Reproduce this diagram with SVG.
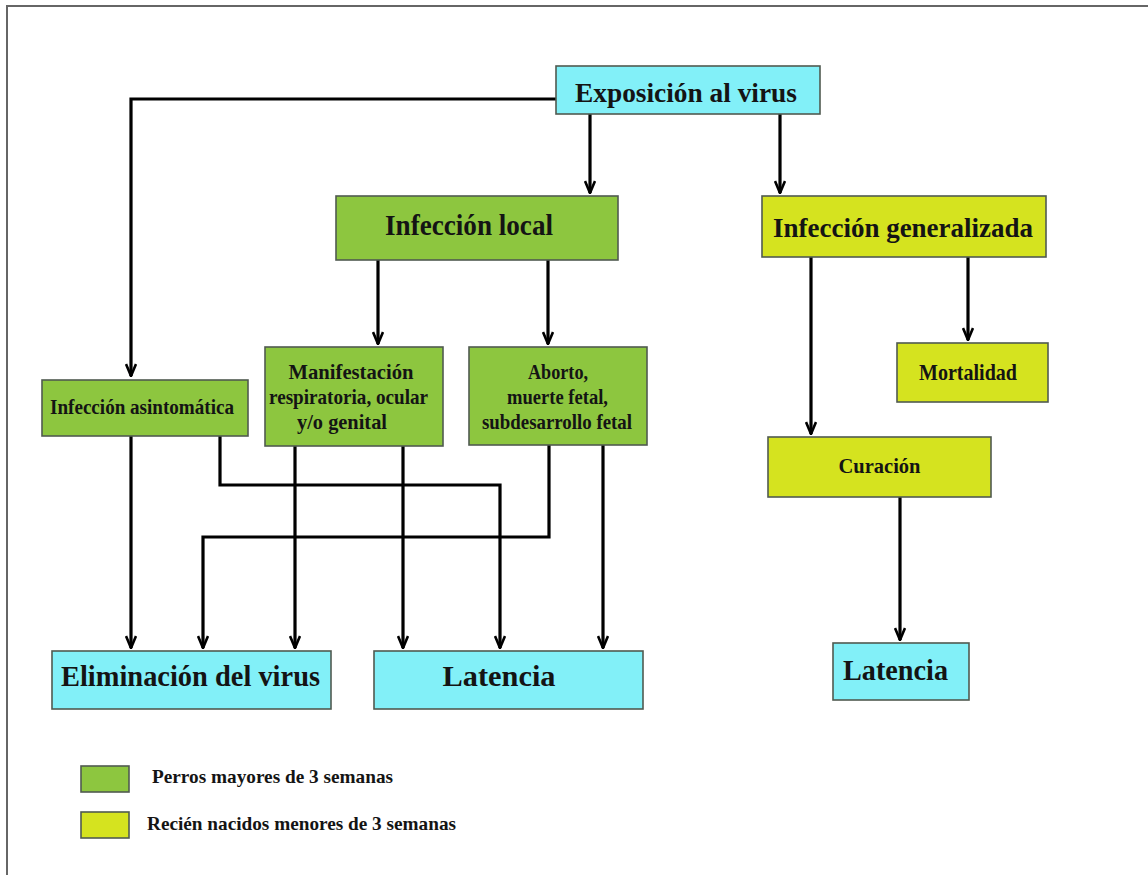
<svg xmlns="http://www.w3.org/2000/svg" width="1148" height="875" viewBox="0 0 1148 875">
<style>
.box{stroke:#505a50;stroke-width:1.6}
.cy{fill:#82f0f8}
.gr{fill:#8dc63f}
.ye{fill:#d5e31f}
text{font-family:"Liberation Serif","Times New Roman",serif;font-weight:bold;fill:#141414;text-anchor:middle}
.t28{font-size:28px}
.t29{font-size:29px}
.t30{font-size:30px}
.t21{font-size:21px}
.t22{font-size:22px}
.t23{font-size:23px}
.t205{font-size:20.5px}
.lg{font-size:19.5px;text-anchor:start}
.c{fill:none;stroke:#000;stroke-width:3.2}
</style>
<defs>
<marker id="ah" viewBox="0 0 14 12" refX="13" refY="6" markerWidth="14" markerHeight="12" markerUnits="userSpaceOnUse" orient="auto">
<path d="M1,1 L13,6 L1,11" fill="none" stroke="#000" stroke-width="2.6"/>
</marker>
</defs>
<rect x="0" y="0" width="1148" height="875" fill="#fff"/>
<rect x="7" y="6" width="1170" height="900" fill="none" stroke="#666" stroke-width="2"/>

<g id="connectors">
<path class="c" d="M556,99 H131 V376" marker-end="url(#ah)"/>
<path class="c" d="M590,114 V193" marker-end="url(#ah)"/>
<path class="c" d="M780,114 V193" marker-end="url(#ah)"/>
<path class="c" d="M378,260 V344" marker-end="url(#ah)"/>
<path class="c" d="M548,260 V344" marker-end="url(#ah)"/>
<path class="c" d="M811,257 V434" marker-end="url(#ah)"/>
<path class="c" d="M968,257 V340" marker-end="url(#ah)"/>
<path class="c" d="M900,497 V640" marker-end="url(#ah)"/>
<path class="c" d="M131,436 V648" marker-end="url(#ah)"/>
<path class="c" d="M220,436 V485 H500 V648" marker-end="url(#ah)"/>
<path class="c" d="M295,446 V648" marker-end="url(#ah)"/>
<path class="c" d="M403,446 V648" marker-end="url(#ah)"/>
<path class="c" d="M549,445 V537 H203 V648" marker-end="url(#ah)"/>
<path class="c" d="M603,445 V648" marker-end="url(#ah)"/>
</g>

<g id="exposicion"><rect class="box cy" x="556" y="66" width="264" height="48"/><text class="t28" x="686" y="102" textLength="222" lengthAdjust="spacingAndGlyphs">Exposición al virus</text></g>
<g id="infeccion-local"><rect class="box gr" x="336" y="196" width="282" height="64"/><text class="t29" x="469" y="235" textLength="168" lengthAdjust="spacingAndGlyphs">Infección local</text></g>
<g id="infeccion-generalizada"><rect class="box ye" x="762" y="196" width="284" height="61"/><text class="t28" x="903" y="237" textLength="260" lengthAdjust="spacingAndGlyphs">Infección generalizada</text></g>
<g id="infeccion-asintomatica"><rect class="box gr" x="42" y="380" width="206" height="56"/><text class="t205" x="142" y="414" textLength="184" lengthAdjust="spacingAndGlyphs">Infección asintomática</text></g>
<g id="manifestacion"><rect class="box gr" x="265" y="347" width="178" height="99"/><text class="t21" x="351" y="379" textLength="125" lengthAdjust="spacingAndGlyphs">Manifestación</text><text class="t21" x="348.5" y="404" textLength="159" lengthAdjust="spacingAndGlyphs">respiratoria, ocular</text><text class="t21" x="342" y="429" textLength="90" lengthAdjust="spacingAndGlyphs">y/o genital</text></g>
<g id="aborto"><rect class="box gr" x="469" y="347" width="178" height="98"/><text class="t21" x="558" y="379" textLength="60" lengthAdjust="spacingAndGlyphs">Aborto,</text><text class="t21" x="557.5" y="404" textLength="101" lengthAdjust="spacingAndGlyphs">muerte fetal,</text><text class="t21" x="557" y="429" textLength="150" lengthAdjust="spacingAndGlyphs">subdesarrollo fetal</text></g>
<g id="mortalidad"><rect class="box ye" x="897" y="343" width="151" height="59"/><text class="t23" x="968" y="380" textLength="98" lengthAdjust="spacingAndGlyphs">Mortalidad</text></g>
<g id="curacion"><rect class="box ye" x="768" y="437" width="223" height="60"/><text class="t22" x="879.5" y="473" textLength="82" lengthAdjust="spacingAndGlyphs">Curación</text></g>
<g id="eliminacion"><rect class="box cy" x="52" y="651" width="279" height="58"/><text class="t30" x="190.5" y="686" textLength="259" lengthAdjust="spacingAndGlyphs">Eliminación del virus</text></g>
<g id="latencia-1"><rect class="box cy" x="374" y="651" width="269" height="58"/><text class="t30" x="499" y="686" textLength="113" lengthAdjust="spacingAndGlyphs">Latencia</text></g>
<g id="latencia-2"><rect class="box cy" x="833" y="643" width="136" height="57"/><text class="t30" x="895.5" y="680" textLength="105" lengthAdjust="spacingAndGlyphs">Latencia</text></g>

<g id="legend">
<rect class="box gr" x="81" y="766" width="48" height="26"/><text class="lg" x="152" y="783" textLength="241" lengthAdjust="spacingAndGlyphs">Perros mayores de 3 semanas</text>
<rect class="box ye" x="81" y="812" width="48" height="26"/><text class="lg" x="147" y="830" textLength="309" lengthAdjust="spacingAndGlyphs">Recién nacidos menores de 3 semanas</text>
</g>
</svg>
